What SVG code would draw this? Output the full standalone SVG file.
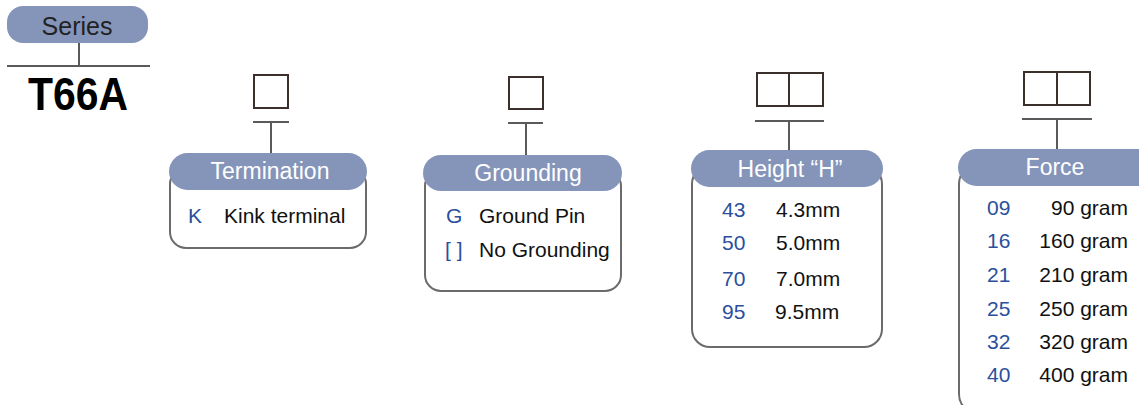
<svg xmlns="http://www.w3.org/2000/svg" width="1139" height="405" viewBox="0 0 1139 405">
<style>
.pill{fill:#8595ba}
.frame{fill:#fff;stroke:#6b6b6b;stroke-width:2}
.slot{fill:#fff;stroke:#3b302c;stroke-width:2}
.ln{stroke:#5a5a5a;stroke-width:2;fill:none}
.ttl{font-family:"Liberation Sans",Arial,sans-serif;font-size:23px;fill:#fff;text-anchor:middle}
.t{font-family:"Liberation Sans",Arial,sans-serif;font-size:21px;fill:#111}
.c{font-family:"Liberation Sans",Arial,sans-serif;font-size:21px;fill:#2a4f9c}
</style>
<rect width="1139" height="405" fill="#fff"/>
<g id="connectors">
<line class="ln" x1="79" y1="43" x2="79" y2="66"/>
<line class="ln" x1="7" y1="66" x2="150" y2="66"/>
<line class="ln" x1="253" y1="122" x2="289" y2="122"/>
<line class="ln" x1="271" y1="122" x2="271" y2="153"/>
<line class="ln" x1="508" y1="123" x2="543" y2="123"/>
<line class="ln" x1="526" y1="123" x2="526" y2="155"/>
<line class="ln" x1="755" y1="121" x2="824" y2="121"/>
<line class="ln" x1="789" y1="121" x2="789" y2="150"/>
<line class="ln" x1="1022" y1="119" x2="1092" y2="119"/>
<line class="ln" x1="1057" y1="119" x2="1057" y2="149"/>
</g>
<g id="series">
<rect class="pill" x="7" y="6" width="141" height="37" rx="16"/>
<text x="77" y="35" font-family="Liberation Sans,Arial,sans-serif" font-size="25" fill="#222" text-anchor="middle">Series</text>
<text x="28" y="110" font-family="Liberation Sans,Arial,sans-serif" font-size="46" font-weight="bold" fill="#000" textLength="100" lengthAdjust="spacingAndGlyphs">T66A</text>
</g>
<g id="termination">
<rect class="slot" x="254" y="75" width="34" height="33"/>
<rect class="frame" x="170" y="168" width="196" height="80" rx="16"/>
<rect class="pill" x="169" y="153" width="198" height="37" rx="18.5"/>
<text class="ttl" x="270" y="179">Termination</text>
<text class="c" x="188" y="223">K</text>
<text class="t" x="224" y="223">Kink terminal</text>
</g>
<g id="grounding">
<rect class="slot" x="509" y="77" width="34" height="32"/>
<rect class="frame" x="425" y="170" width="196" height="121" rx="16"/>
<rect class="pill" x="423" y="155" width="199" height="36" rx="18"/>
<text class="ttl" x="528" y="181">Grounding</text>
<text class="c" x="446" y="223">G</text>
<text class="t" x="479" y="223">Ground Pin</text>
<text class="c" x="445" y="257">[ ]</text>
<text class="t" x="479" y="257">No Grounding</text>
</g>
<g id="height">
<rect class="slot" x="757" y="73" width="66" height="33"/>
<line class="slot" x1="789" y1="73" x2="789" y2="106"/>
<rect class="frame" x="692" y="166" width="190" height="181" rx="18"/>
<rect class="pill" x="691" y="150" width="192" height="37" rx="18.5"/>
<text class="ttl" x="790" y="177">Height “H”</text>
<text class="c" x="722" y="217">43</text><text class="t" x="776" y="217">4.3mm</text>
<text class="c" x="722" y="250">50</text><text class="t" x="776" y="250">5.0mm</text>
<text class="c" x="722" y="286">70</text><text class="t" x="776" y="286">7.0mm</text>
<text class="c" x="722" y="319">95</text><text class="t" x="775" y="319">9.5mm</text>
</g>
<g id="force">
<rect class="slot" x="1024" y="72" width="66" height="33"/>
<line class="slot" x1="1057" y1="72" x2="1057" y2="105"/>
<rect class="frame" x="959" y="164" width="200" height="250" rx="20"/>
<rect class="pill" x="958" y="149" width="200" height="37" rx="18.5"/>
<text class="ttl" x="1055" y="175">Force</text>
<g text-anchor="end">
<text class="t" x="1128" y="215">90 gram</text>
<text class="t" x="1128" y="248">160 gram</text>
<text class="t" x="1128" y="282">210 gram</text>
<text class="t" x="1128" y="316">250 gram</text>
<text class="t" x="1128" y="349">320 gram</text>
<text class="t" x="1128" y="382">400 gram</text>
</g>
<text class="c" x="987" y="215">09</text>
<text class="c" x="987" y="248">16</text>
<text class="c" x="987" y="282">21</text>
<text class="c" x="987" y="316">25</text>
<text class="c" x="987" y="349">32</text>
<text class="c" x="987" y="382">40</text>
</g>
</svg>
